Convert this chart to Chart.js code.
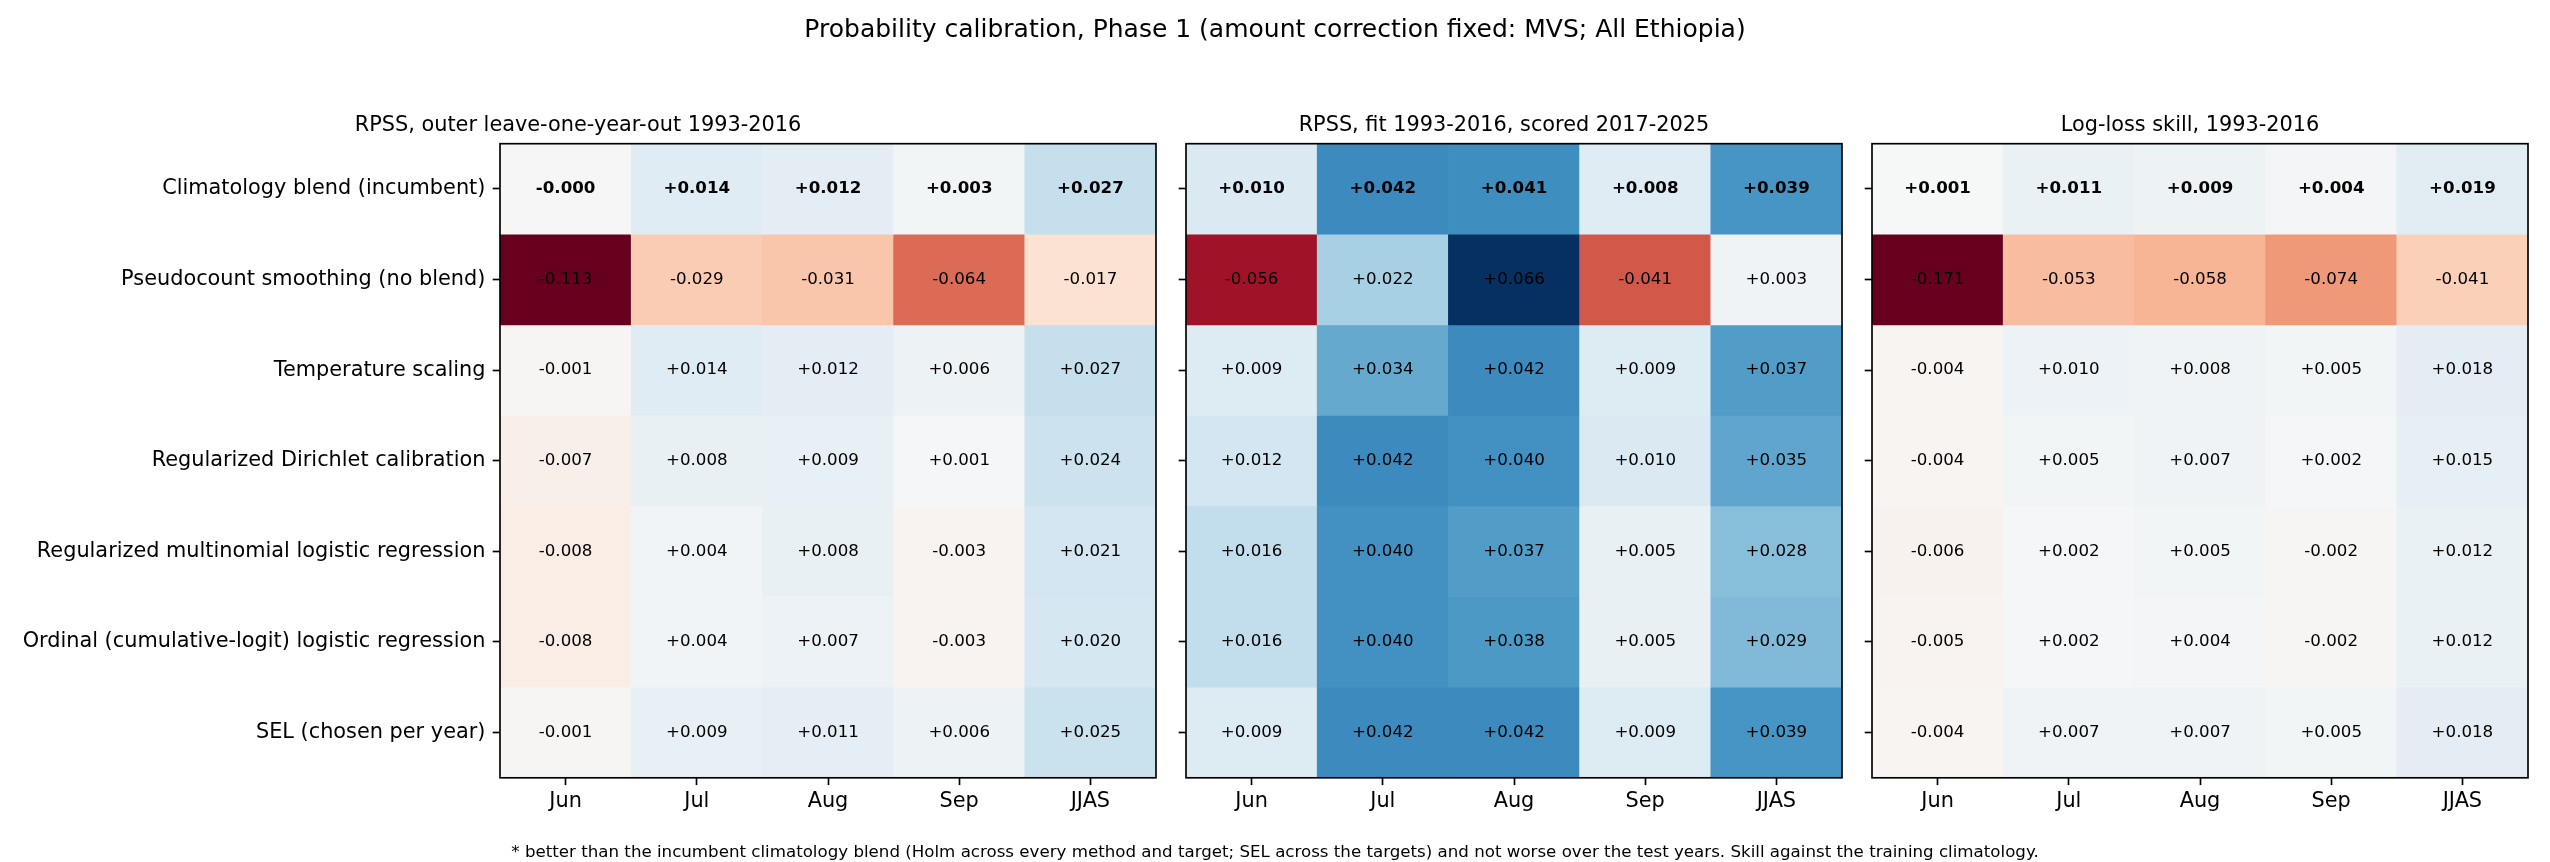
<!DOCTYPE html>
<html><head><meta charset="utf-8">
<script src="https://cdn.jsdelivr.net/npm/chart.js@4.4.1/dist/chart.umd.min.js"></script>
<style>
html,body{margin:0;padding:0;background:#fff;}
#wrap{position:relative;width:2550px;height:862px;overflow:hidden;background:#fff;}
canvas{position:absolute;left:0;top:0;}
.txt{position:absolute;font-family:"DejaVu Sans";color:#000;white-space:nowrap;transform:translate(-50%,-50%);line-height:1;}
</style></head><body>
<div id="wrap">
<canvas id="c1" width="2550" height="862"></canvas>
<canvas id="c2" width="2550" height="862"></canvas>
<canvas id="c3" width="2550" height="862"></canvas>
<div class="txt" style="left:1275px;top:28px;font-size:25px;">Probability calibration, Phase 1 (amount correction fixed: MVS; All Ethiopia)</div>
<div class="txt" style="left:1275px;top:852px;font-size:16.67px;">* better than the incumbent climatology blend (Holm across every method and target; SEL across the targets) and not worse over the test years. Skill against the training climatology.</div>
</div>
<script>
const months = ['Jun', 'Jul', 'Aug', 'Sep', 'JJAS'];
const methods = [
  'Climatology blend (incumbent)',
  'Pseudocount smoothing (no blend)',
  'Temperature scaling',
  'Regularized Dirichlet calibration',
  'Regularized multinomial logistic regression',
  'Ordinal (cumulative-logit) logistic regression',
  'SEL (chosen per year)'
];
const panelTitles = [
  'RPSS, outer leave-one-year-out 1993-2016',
  'RPSS, fit 1993-2016, scored 2017-2025',
  'Log-loss skill, 1993-2016'
];
const rpssLoyo = [
  [-0.0003, 0.014, 0.012, 0.003, 0.027],
  [-0.113, -0.029, -0.031, -0.064, -0.017],
  [-0.001, 0.014, 0.012, 0.006, 0.027],
  [-0.007, 0.008, 0.009, 0.001, 0.024],
  [-0.008, 0.004, 0.008, -0.003, 0.021],
  [-0.008, 0.004, 0.007, -0.003, 0.020],
  [-0.001, 0.009, 0.011, 0.006, 0.025]
];
const rpssTest = [
  [0.010, 0.042, 0.041, 0.008, 0.039],
  [-0.056, 0.022, 0.066, -0.041, 0.003],
  [0.009, 0.034, 0.042, 0.009, 0.037],
  [0.012, 0.042, 0.040, 0.010, 0.035],
  [0.016, 0.040, 0.037, 0.005, 0.028],
  [0.016, 0.040, 0.038, 0.005, 0.029],
  [0.009, 0.042, 0.042, 0.009, 0.039]
];
const logLoss = [
  [0.001, 0.011, 0.009, 0.004, 0.019],
  [-0.171, -0.053, -0.058, -0.074, -0.041],
  [-0.004, 0.010, 0.008, 0.005, 0.018],
  [-0.004, 0.005, 0.007, 0.002, 0.015],
  [-0.006, 0.002, 0.005, -0.002, 0.012],
  [-0.005, 0.002, 0.004, -0.002, 0.012],
  [-0.004, 0.007, 0.007, 0.005, 0.018]
];
const boldRows = [0];

const RDBU = [[103,0,31],[178,24,43],[214,96,77],[244,165,130],[253,219,199],[247,247,247],[209,229,240],[146,197,222],[67,147,195],[33,102,172],[5,48,97]];
function rdbu(t) {
  t = Math.min(1, Math.max(0, t));
  const idx = Math.min(255, Math.floor(t * 256));
  const s = idx / 255 * 10;
  const i = Math.min(9, Math.floor(s));
  const f = s - i;
  const a = RDBU[i], b = RDBU[i + 1];
  const c = a.map((v, k) => Math.round(v + (b[k] - v) * f));
  return `rgb(${c[0]},${c[1]},${c[2]})`;
}
function fmt(v) { return (v >= 0 ? '+' : '') + v.toFixed(3); }

const W = 2550, H = 862, T = 143.7, B = 777.8;
const FONT = 'DejaVu Sans';
const TICK = 20.83;

const cellPlugin = {
  id: 'cells',
  afterDatasetsDraw(chart) {
    const ctx = chart.ctx;
    const vals = chart.options.plugins.cells.values;
    ctx.save();
    ctx.fillStyle = '#000';
    ctx.textAlign = 'center';
    ctx.textBaseline = 'middle';
    chart.data.datasets.forEach((ds, r) => {
      const meta = chart.getDatasetMeta(r);
      ctx.font = (boldRows.includes(r) ? 'bold ' : '') + '16.67px "' + FONT + '"';
      meta.data.forEach((el, c) => {
        const p = el.getProps(['x', 'y', 'base'], true);
        ctx.fillText(fmt(vals[r][c]), p.x, (p.y + p.base) / 2);
      });
    });
    const a = chart.chartArea;
    ctx.strokeStyle = '#000';
    ctx.lineWidth = 1.67;
    ctx.strokeRect(a.left, a.top, a.right - a.left, a.bottom - a.top);
    ctx.restore();
  }
};

function makePanel(id, vals, title, L, R, showY) {
  const vmax = Math.max(...vals.flat().map(Math.abs));
  const yW = showY ? L : 20;
  const datasets = methods.map((m, r) => ({
    label: m,
    data: months.map(() => 1),
    backgroundColor: vals[r].map(v => rdbu((v / vmax + 1) / 2)),
    borderWidth: 0,
    barPercentage: 1,
    categoryPercentage: 1
  }));
  new Chart(document.getElementById(id), {
    type: 'bar',
    data: { labels: months, datasets },
    options: {
      responsive: false, animation: false, devicePixelRatio: 1,
      events: [],
      layout: { padding: { left: L - yW, right: W - R, top: 0, bottom: 0 } },
      plugins: {
        legend: { display: false }, tooltip: { enabled: false },
        title: { display: true, text: title, color: '#000',
          font: { family: FONT, size: TICK, weight: 'normal', lineHeight: 1.2 },
          padding: { top: T - 30.5, bottom: 5.5 } },
        cells: { values: vals }
      },
      scales: {
        x: {
          type: 'category', stacked: true, offset: true,
          grid: { display: true, offset: false, drawOnChartArea: false, drawTicks: true,
            tickLength: 7.3, tickWidth: 1.67, tickColor: '#000' },
          border: { display: false },
          ticks: { color: '#000', font: { family: FONT, size: TICK }, padding: 4.4, maxRotation: 0, autoSkip: false },
          afterFit: s => { s.height = H - B; }
        },
        y: {
          type: 'linear', stacked: true, min: 0, max: 7, reverse: true,
          afterBuildTicks: s => { s.ticks = methods.map((m, i) => ({ value: i + 0.5 })); },
          grid: { display: true, drawOnChartArea: false, drawTicks: true,
            tickLength: 7.3, tickWidth: 1.67, tickColor: '#000' },
          border: { display: false },
          ticks: { color: '#000', font: { family: FONT, size: TICK }, padding: 7.3, autoSkip: false,
            callback: (v, i) => showY ? methods[i] : '' },
          afterFit: s => { s.width = yW; }
        }
      }
    },
    plugins: [cellPlugin]
  });
}

makePanel('c1', rpssLoyo, panelTitles[0], 500, 1156, true);
makePanel('c2', rpssTest, panelTitles[1], 1186, 1842, false);
makePanel('c3', logLoss, panelTitles[2], 1872, 2528, false);
</script>
</body></html>
